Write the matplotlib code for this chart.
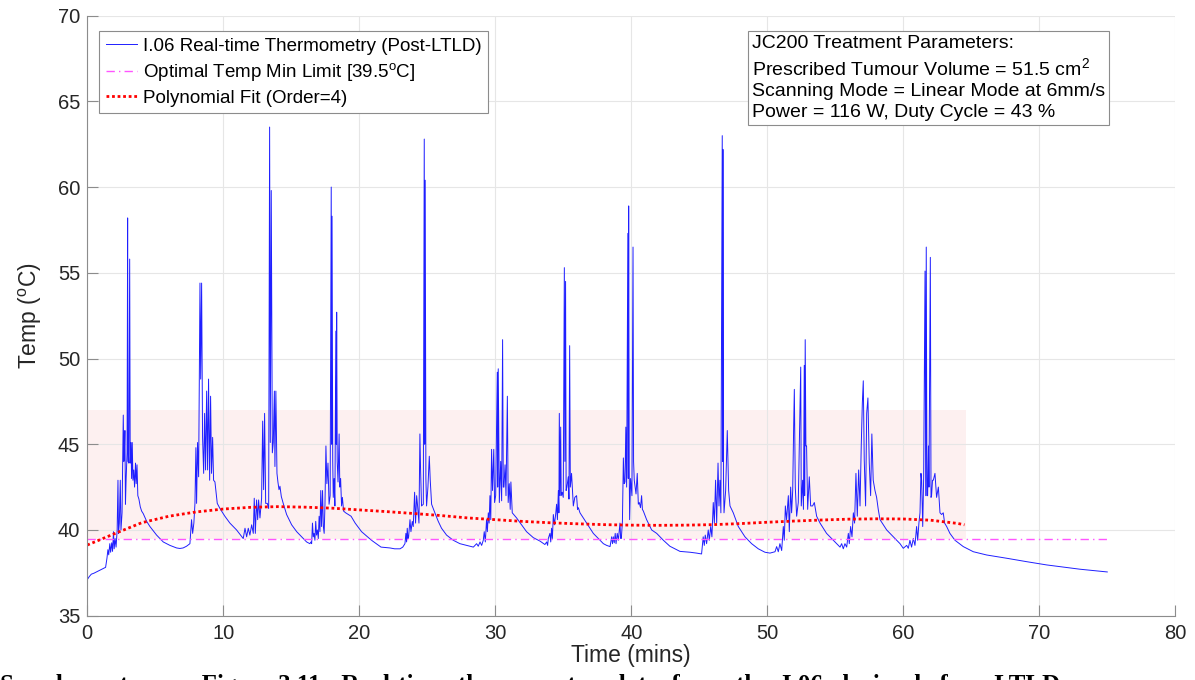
import matplotlib.pyplot as plt

plt.rcParams['font.family'] = ['Liberation Sans', 'DejaVu Sans']
plt.rcParams['mathtext.default'] = 'regular'

# Real-time thermometry trace (time in minutes, temperature in degC)
trace_t = [
    0.00, 0.15, 0.30, 0.50, 0.80, 1.10, 1.35, 1.45, 1.52, 1.58, 1.66, 1.72, 1.80, 1.86, 1.93, 1.98,
    2.05, 2.12, 2.20, 2.26, 2.30, 2.36, 2.43, 2.48, 2.56, 2.65, 2.69, 2.73, 2.77, 2.81, 2.86, 2.93,
    2.97, 3.00, 3.06, 3.12, 3.16, 3.22, 3.26, 3.31, 3.36, 3.42, 3.48, 3.55, 3.60, 3.66, 3.72, 3.80,
    3.90, 4.00, 4.12, 4.37, 4.61, 5.10, 5.59, 6.08, 6.57, 6.81, 7.05, 7.30, 7.55,
    # burst 2
    7.67, 7.75, 7.84, 7.92, 7.99, 8.04, 8.11, 8.19, 8.29, 8.34, 8.41, 8.48, 8.56, 8.63, 8.70, 8.78,
    8.85, 8.92, 9.00, 9.07, 9.14, 9.22, 9.29, 9.39, 9.46, 9.56, 9.76, 10.12, 10.49, 10.98, 11.47,
    11.60, 11.72, 11.84, 11.96, 12.09, 12.21, 12.28, 12.36, 12.45, 12.53, 12.60, 12.70, 12.82,
    # burst 3
    12.90, 12.97, 13.04, 13.12, 13.24, 13.34, 13.41, 13.46, 13.53, 13.61, 13.68, 13.76, 13.80, 13.87,
    13.95, 14.02, 14.10, 14.17, 14.27, 14.41, 14.66, 15.03, 15.40, 15.76, 16.13, 16.37, 16.45,
    # burst 4
    16.50, 16.56, 16.62, 16.68, 16.74, 16.80, 16.86, 16.92, 16.99, 17.05, 17.11, 17.17, 17.23, 17.30,
    17.36, 17.42, 17.48, 17.55, 17.62, 17.70, 17.78, 17.86, 17.94, 17.97, 18.00, 18.05, 18.09, 18.15,
    18.21, 18.28, 18.31, 18.34, 18.38, 18.44, 18.52, 18.57, 18.63, 18.70, 18.76, 18.85, 19.00, 19.20,
    19.40, 19.70, 20.17, 20.90, 21.60, 22.26, 22.60, 23.00, 23.20,
    # burst 5
    23.36, 23.43, 23.48, 23.53, 23.58, 23.63, 23.73, 23.80, 23.90, 23.97, 24.07, 24.14, 24.22, 24.29,
    24.39, 24.46, 24.51, 24.58, 24.71, 24.78, 24.81, 24.85, 24.90, 24.95, 25.05, 25.15, 25.22, 25.32,
    25.56, 25.81, 26.05, 26.42, 26.91, 27.40, 27.89, 28.39, 28.63, 28.75, 28.88, 29.00,
    # burst 6
    29.12, 29.19, 29.27, 29.36, 29.42, 29.49, 29.55, 29.61, 29.67, 29.73, 29.80, 29.89, 29.95, 30.03,
    30.15, 30.18, 30.22, 30.30, 30.40, 30.47, 30.54, 30.59, 30.64, 30.72, 30.79, 30.89, 30.95, 31.03,
    31.10, 31.15, 31.25, 31.57, 31.94, 32.30, 32.80, 33.29, 33.65, 33.78, 33.85, 33.90,
    # burst 7
    34.02, 34.08, 34.14, 34.20, 34.27, 34.35, 34.44, 34.51, 34.57, 34.64, 34.68, 34.71, 34.76, 34.81,
    34.85, 34.92, 35.00, 35.08, 35.12, 35.17, 35.21, 35.27, 35.37, 35.42, 35.47, 35.52, 35.61, 35.74,
    35.85, 35.98, 36.05, 36.11, 36.23, 36.72, 37.21, 37.70, 37.95, 38.19, 38.44,
    # burst 8
    38.56, 38.62, 38.68, 38.75, 38.82, 38.88, 38.97, 39.05, 39.17, 39.22, 39.27, 39.35, 39.42, 39.48,
    39.54, 39.60, 39.66, 39.75, 39.78, 39.81, 39.85, 39.88, 39.95, 40.05, 40.13, 40.17, 40.22, 40.35,
    40.44, 40.52, 40.59, 40.68, 40.76, 40.82, 40.89, 41.13, 41.50, 41.87, 42.36, 42.84, 43.58, 44.32,
    44.80, 45.17,
    # burst 9
    45.29, 45.37, 45.44, 45.54, 45.66, 45.74, 45.84, 45.93, 46.03, 46.11, 46.20, 46.28, 46.38, 46.45,
    46.52, 46.59, 46.69, 46.72, 46.74, 46.78, 46.82, 46.94, 47.06, 47.16, 47.26, 47.50, 47.87, 48.36,
    48.85, 49.34, 49.83, 50.20, 50.57, 50.69, 50.81, 50.93, 51.06,
    # burst 10
    51.18, 51.25, 51.33, 51.42, 51.55, 51.62, 51.72, 51.79, 51.87, 51.94, 51.99, 52.06, 52.16, 52.28,
    52.46, 52.50, 52.60, 52.66, 52.72, 52.75, 52.79, 52.84, 52.89, 52.97, 53.09, 53.19, 53.33, 53.46,
    53.63, 53.88, 54.36, 54.86, 55.35, 55.47, 55.59, 55.71, 55.84,
    # burst 11
    55.96, 56.03, 56.13, 56.23, 56.33, 56.42, 56.52, 56.62, 56.72, 56.82, 56.91, 56.99, 57.06, 57.13,
    57.23, 57.31, 57.40, 57.50, 57.60, 57.69, 57.79, 57.92, 58.04, 58.16, 58.29, 58.78, 59.27, 59.76,
    60.00, 60.25, 60.37, 60.49, 60.61, 60.74, 60.86,
    # burst 12 and cool-down
    60.98, 61.06, 61.15, 61.23, 61.30, 61.35, 61.43, 61.50, 61.60, 61.65, 61.69, 61.74, 61.79, 61.85,
    61.89, 61.99, 62.04, 62.08, 62.15, 62.21, 62.33, 62.45, 62.58, 62.70, 62.82, 62.94, 63.04, 63.19,
    63.43, 63.80, 64.41, 65.15, 66.13, 67.60, 69.07, 70.54, 72.99, 75.00,
]
trace_T = [
    37.10, 37.28, 37.42, 37.48, 37.60, 37.72, 37.82, 38.35, 38.85, 38.55, 39.20, 38.70, 39.25, 38.75, 39.90, 38.90,
    39.50, 39.00, 40.00, 42.90, 39.80, 40.40, 42.90, 40.00, 41.00, 46.70, 44.00, 44.50, 45.80, 41.50, 43.00, 44.50,
    58.20, 44.00, 43.90, 55.80, 43.90, 45.10, 43.00, 45.10, 42.90, 43.50, 42.50, 43.90, 42.70, 43.80, 42.00, 41.80,
    41.35, 41.10, 40.95, 40.50, 40.20, 39.70, 39.30, 39.10, 38.95, 38.92, 38.95, 39.05, 39.20,
    # burst 2
    40.60, 39.80, 40.40, 41.55, 44.80, 41.55, 45.10, 43.10, 54.40, 48.80, 54.40, 45.40, 43.30, 46.80, 43.50, 48.10,
    43.50, 48.80, 42.90, 47.80, 43.30, 45.40, 42.90, 42.80, 42.30, 41.55, 41.25, 40.80, 40.40, 40.00, 39.50,
    40.10, 39.60, 40.10, 39.70, 40.30, 39.80, 41.85, 39.80, 41.75, 40.60, 41.75, 40.70, 41.85,
    # burst 3
    46.35, 42.35, 46.80, 41.55, 41.55, 41.25, 63.50, 45.10, 59.80, 44.50, 45.10, 48.10, 43.70, 48.10,
    43.30, 42.80, 42.35, 42.55, 41.95, 41.55, 40.90, 40.30, 39.90, 39.60, 39.30, 39.20, 39.30,
    # burst 4
    39.20, 40.40, 39.60, 39.80, 39.40, 40.50, 39.70, 40.00, 39.50, 40.80, 39.90, 42.30, 40.20, 42.30,
    40.20, 39.80, 41.50, 44.90, 42.70, 43.90, 41.50, 42.00, 60.00, 45.00, 58.30, 44.00, 41.90, 43.00,
    41.40, 51.60, 45.00, 52.70, 44.00, 42.80, 45.60, 42.50, 43.00, 41.40, 41.90, 41.10, 41.00, 40.90,
    40.80, 40.40, 39.90, 39.40, 39.00, 38.95, 38.90, 38.90, 39.00,
    # burst 5
    39.20, 39.80, 39.30, 40.10, 39.50, 39.60, 40.60, 39.90, 40.50, 40.20, 42.20, 40.40, 42.00, 41.40,
    40.40, 45.60, 43.50, 41.40, 41.50, 62.80, 45.00, 60.40, 43.00, 41.40, 42.50, 44.30, 42.90, 41.50,
    41.00, 40.50, 40.10, 39.70, 39.40, 39.20, 39.10, 39.00, 39.20, 39.05, 39.30, 39.10,
    # burst 6
    39.40, 39.90, 39.30, 40.60, 39.90, 41.00, 40.40, 42.00, 40.60, 44.70, 42.30, 44.70, 41.60, 42.00,
    49.20, 42.50, 49.40, 41.60, 44.00, 41.70, 51.10, 42.50, 42.50, 43.80, 42.00, 47.80, 41.60, 42.70,
    41.20, 42.80, 41.00, 40.70, 40.30, 39.90, 39.55, 39.35, 39.15, 39.30, 39.10, 39.50,
    # burst 7
    39.80, 39.30, 40.10, 39.50, 40.90, 40.30, 40.90, 41.50, 40.60, 42.30, 41.00, 46.80, 42.00, 46.00,
    42.00, 42.20, 41.90, 55.30, 44.00, 54.50, 42.30, 42.50, 43.10, 41.80, 50.75, 42.50, 43.30, 41.40,
    41.90, 42.00, 41.20, 41.30, 41.00, 40.40, 39.80, 39.40, 39.20, 39.10, 39.03,
    # burst 8
    39.60, 39.20, 39.60, 39.25, 39.80, 39.20, 39.80, 39.40, 40.40, 39.50, 39.50, 40.50, 44.20, 42.70,
    42.80, 46.00, 42.50, 57.30, 43.00, 58.90, 43.50, 40.60, 43.00, 42.00, 56.50, 44.00, 42.90, 42.10,
    43.30, 41.50, 41.60, 41.30, 42.00, 41.20, 41.10, 40.60, 40.00, 39.80, 39.40, 39.05, 38.75, 38.70,
    38.65, 38.60,
    # burst 9
    39.60, 39.10, 39.70, 39.20, 40.00, 39.40, 40.20, 39.60, 41.60, 40.40, 42.90, 40.40, 43.90, 41.40,
    42.90, 41.00, 63.00, 44.00, 62.20, 43.00, 41.00, 42.30, 45.80, 42.30, 41.40, 41.00, 40.20, 39.60,
    39.20, 38.90, 38.70, 38.65, 38.73, 39.03, 38.73, 39.20, 38.80,
    # burst 10
    40.20, 39.40, 41.40, 40.60, 42.00, 39.90, 42.50, 41.00, 42.30, 46.00, 48.20, 42.50, 40.80, 41.60,
    49.50, 41.40, 42.90, 41.20, 49.60, 42.00, 51.10, 44.90, 44.90, 41.20, 43.10, 41.40, 41.40, 41.60,
    40.80, 40.40, 39.80, 39.40, 39.00, 39.20, 38.90, 39.20, 39.00,
    # burst 11
    39.80, 39.20, 40.20, 39.60, 41.00, 40.40, 43.30, 40.80, 43.50, 41.40, 44.90, 47.40, 48.70, 44.10,
    41.40, 46.80, 47.70, 43.90, 42.00, 45.60, 42.90, 42.30, 41.90, 41.20, 40.60, 40.00, 39.60, 39.20,
    38.93, 39.10, 38.93, 39.40, 39.00, 39.50, 39.10,
    # burst 12 and cool-down
    40.20, 39.40, 40.40, 41.00, 43.30, 42.90, 40.20, 43.10, 55.10, 42.00, 56.50, 42.00, 42.00, 44.90,
    42.50, 55.90, 41.90, 42.00, 42.90, 42.90, 43.30, 41.90, 42.50, 41.00, 40.90, 41.00, 40.40, 40.20,
    39.80, 39.40, 39.03, 38.73, 38.54, 38.35, 38.15, 37.96, 37.71, 37.55,
]

# 4th order polynomial fit curve
fit_t = [0, 2, 4, 6, 8, 10, 12, 14, 16, 18, 20, 22, 24, 26, 28, 30, 32,
         34, 36, 38, 40, 42, 44, 46, 48, 50, 52, 54, 56, 58, 60, 62, 64, 64.5]
fit_T = [39.12, 39.78, 40.42, 40.80, 41.05, 41.22, 41.32, 41.36, 41.33, 41.27, 41.17, 41.07,
         40.96, 40.84, 40.70, 40.60, 40.50, 40.42, 40.36, 40.31, 40.28, 40.27, 40.28, 40.31,
         40.37, 40.45, 40.52, 40.58, 40.63, 40.65, 40.64, 40.57, 40.38, 40.30]

min_limit = 39.5
band_low, band_high = 39.5, 47.0
band_end = 64.6
limit_end = 75

params = ['JC200 Treatment Parameters:',
          'Prescribed Tumour Volume = 51.5 cm$^2$',
          'Scanning Mode = Linear Mode at 6mm/s',
          'Power = 116 W, Duty Cycle = 43 %']

fig = plt.figure(figsize=(11.95, 6.8), dpi=100)
ax = fig.add_axes([0.073, 0.0946, 0.9105, 0.8824])

ax.fill_between([0, band_end], band_low, band_high, color='#fdf0f0', lw=0, zorder=0)
ax.plot(trace_t, trace_T, color='#1f1fff', lw=0.7,
        label='I.06 Real-time Thermometry (Post-LTLD)')
ax.plot([0, limit_end], [min_limit, min_limit], color='#ff55ff', lw=1.0,
        ls=(0, (6, 3, 1, 3)), label='Optimal Temp Min Limit [39.5$^{o}$C]')
ax.plot(fit_t, fit_T, color='red', lw=2.0, ls=(0, (1, 1)),
        label='Polynomial Fit (Order=4)')

ax.set_xlim(0, 80)
ax.set_ylim(35, 70)
ax.set_xticks(range(0, 81, 10))
ax.set_yticks(range(35, 71, 5))
ax.grid(True, color='#e6e6e6', lw=0.8)
ax.set_axisbelow(True)
for s in ['top', 'right']:
    ax.spines[s].set_visible(False)
for s in ['left', 'bottom']:
    ax.spines[s].set_color('#8c8c8c')
ax.tick_params(direction='in', length=8, color='#8c8c8c', labelsize=14.5, labelcolor='#262626')
ax.tick_params(axis='y', pad=5)
ax.tick_params(axis='x', pad=6)

ax.set_xlabel('Time (mins)', fontsize=16.5, color='#262626', labelpad=1)
ax.set_ylabel('Temp ($^{o}$C)', fontsize=16.5, color='#262626', labelpad=10)

leg = ax.legend(loc='upper left', bbox_to_anchor=(0.0108, 0.9745), borderaxespad=0,
                fontsize=13.5, handlelength=1.7, handletextpad=0.3, labelspacing=0.35,
                fancybox=False, framealpha=1, edgecolor='#8c8c8c', borderpad=0.35)
leg.get_frame().set_linewidth(0.8)

ax.text(0.611, 0.968, '\n'.join(params), transform=ax.transAxes, va='top', ha='left',
        fontsize=14, linespacing=1.3,
        bbox=dict(boxstyle='square,pad=0.2', facecolor='white', edgecolor='#8c8c8c', lw=0.8))

fig.text(0.0, -0.018, 'Supplementary      Figure 3.11:  Real-time  thermometry  data  from  the  I.06  device  before  LTLD',
         fontfamily=['Liberation Serif', 'DejaVu Serif'], fontweight='bold', fontsize=18, va='baseline')

fig.savefig('out.png', dpi=100)
